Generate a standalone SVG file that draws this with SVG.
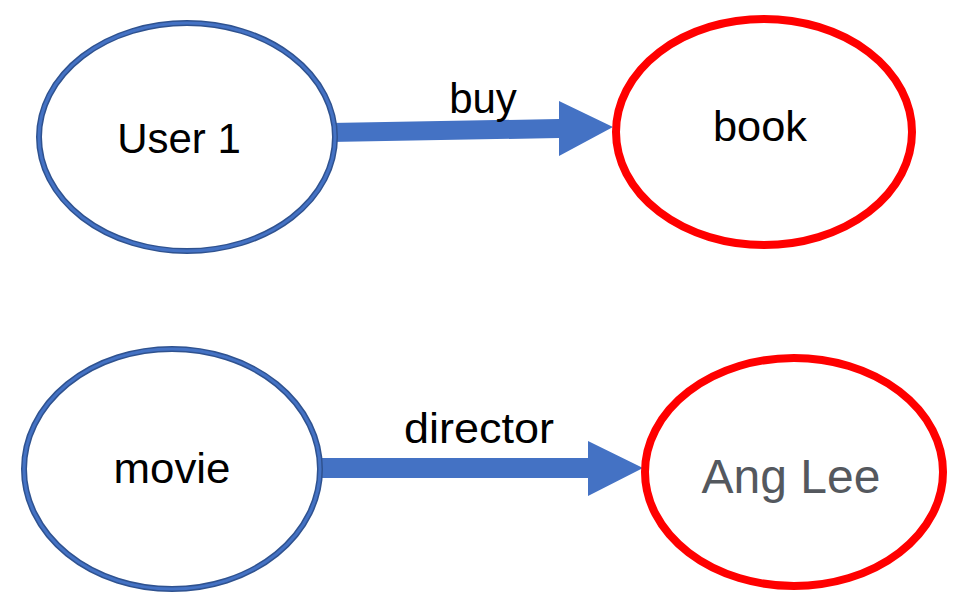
<svg xmlns="http://www.w3.org/2000/svg" width="959" height="596" viewBox="0 0 959 596">
<style>
.bg{fill:#ffffff}
.blueO{fill:#ffffff;stroke:#2F528F;stroke-width:6}
.blueI{fill:none;stroke:#4472C4;stroke-width:3}
.red{fill:#ffffff;stroke:#FF0000;stroke-width:8}
.arrow{fill:#4472C4}
.lbl{font-family:"Liberation Sans",Arial,sans-serif;font-size:42px;fill:#000000;text-anchor:middle}
.gray{font-family:"Liberation Sans",Arial,sans-serif;font-size:48px;fill:#54585E;text-anchor:middle}
</style>
<rect class="bg" x="0" y="0" width="959" height="596"/>
<g id="connectors">
  <g id="edge-buy">
    <polygon class="arrow" points="330,123 559,119 559,101 613,127 559,156 559,138 330,142"/>
    <text class="lbl" x="483" y="113">buy</text>
  </g>
  <g id="edge-director">
    <polygon class="arrow" points="316,458 588,458 588,441 643,468 588,496 588,478 316,478"/>
    <text class="lbl" x="479" y="443" textLength="150" lengthAdjust="spacingAndGlyphs">director</text>
  </g>
</g>
<g id="node-user1">
  <ellipse class="blueO" cx="187" cy="137" rx="148" ry="114"/>
  <ellipse class="blueI" cx="187" cy="137" rx="148" ry="114"/>
  <text class="lbl" x="179" y="153">User 1</text>
</g>
<g id="node-book">
  <ellipse class="red" cx="764" cy="132" rx="148" ry="113"/>
  <text class="lbl" x="760" y="141" textLength="94" lengthAdjust="spacingAndGlyphs">book</text>
</g>
<g id="node-movie">
  <ellipse class="blueO" cx="172" cy="469" rx="148" ry="120"/>
  <ellipse class="blueI" cx="172" cy="469" rx="148" ry="120"/>
  <text class="lbl" x="172" y="483" textLength="117" lengthAdjust="spacingAndGlyphs">movie</text>
</g>
<g id="node-anglee">
  <ellipse class="red" cx="794" cy="472" rx="149" ry="114"/>
  <text class="gray" x="791" y="493">Ang Lee</text>
</g>
</svg>
